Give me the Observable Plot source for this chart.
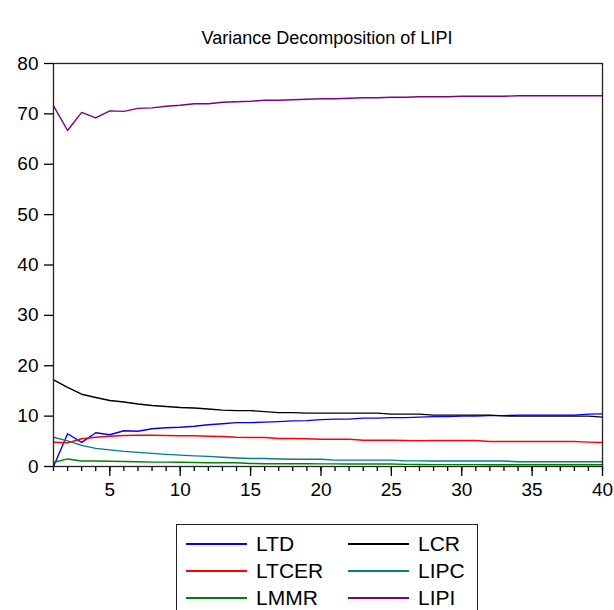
<!DOCTYPE html>
<html>
<head>
<meta charset="utf-8">
<script src="https://cdn.jsdelivr.net/npm/d3@7"></script>
<script src="https://cdn.jsdelivr.net/npm/@observablehq/plot@0.6"></script>
<style>
  html, body { margin: 0; padding: 0; background: #fff; }
  body { width: 614px; height: 610px; overflow: hidden; font-family: "Liberation Sans", Arial, sans-serif; color: #000; }
  #title { height: 50px; box-sizing: border-box; padding-top: 28px; text-align: center; font-size: 18px; line-height: 20px; padding-left: 40px; }
  #legend { margin-left: 176px; margin-top: 14px; width: 302px; box-sizing: border-box; border: 1.5px solid #222; border-bottom: none; padding: 5px 0 6px 9px; display: grid; grid-template-columns: 162px 120px; }
  .item { display: flex; align-items: center; height: 27px; font-size: 21px; }
  .sw { display: inline-block; width: 61px; height: 2px; margin-right: 9px; }
</style>
</head>
<body>
<div id="title">Variance Decomposition of LIPI</div>
<div id="chart"></div>
<div id="legend"></div>
<script>
const periods = [1,2,3,4,5,6,7,8,9,10,11,12,13,14,15,16,17,18,19,20,21,22,23,24,25,26,27,28,29,30,31,32,33,34,35,36,37,38,39,40];
const xTicks = [5,10,15,20,25,30,35,40];
const yTicks = [0,10,20,30,40,50,60,70,80];

const seriesNames = ["LTD","LCR","LTCER","LIPC","LMMR","LIPI"];
const seriesColors = ["#0000ff","#000000","#ff0000","#008080","#008000","#800080"];

const LTD   = [0.0,6.5,4.8,6.7,6.3,7.1,7.0,7.5,7.7,7.8,8.0,8.3,8.5,8.7,8.7,8.8,8.9,9.05,9.1,9.3,9.4,9.4,9.6,9.6,9.7,9.7,9.8,9.9,9.9,10.0,10.0,10.1,10.1,10.2,10.2,10.2,10.2,10.2,10.4,10.45];
const LCR   = [17.2,15.7,14.35,13.7,13.1,12.8,12.4,12.1,11.9,11.7,11.6,11.4,11.2,11.1,11.1,10.9,10.7,10.7,10.6,10.6,10.6,10.6,10.6,10.6,10.4,10.4,10.4,10.2,10.2,10.2,10.2,10.2,10.05,10.0,10.0,10.0,10.0,10.0,10.0,9.8];
const LTCER = [4.8,4.7,5.5,5.8,6.0,6.15,6.2,6.2,6.15,6.1,6.1,6.0,5.95,5.8,5.75,5.75,5.55,5.55,5.5,5.4,5.4,5.4,5.2,5.2,5.2,5.15,5.1,5.15,5.15,5.15,5.15,4.95,4.95,4.95,4.95,4.95,4.95,4.95,4.83,4.76];
const LIPC  = [5.8,5.1,4.2,3.6,3.3,3.0,2.8,2.6,2.4,2.25,2.1,2.0,1.85,1.7,1.6,1.6,1.5,1.45,1.45,1.45,1.26,1.26,1.26,1.26,1.26,1.12,1.12,1.1,1.1,1.1,1.1,1.1,1.1,0.93,0.93,0.93,0.93,0.93,0.93,0.93];
const LMMR  = [0.8,1.5,1.1,1.1,1.05,1.0,0.93,0.86,0.86,0.85,0.8,0.75,0.75,0.73,0.6,0.55,0.55,0.55,0.55,0.52,0.52,0.5,0.5,0.5,0.5,0.42,0.4,0.38,0.38,0.37,0.37,0.36,0.36,0.35,0.35,0.35,0.35,0.35,0.35,0.35];
const LIPI  = [71.6,66.7,70.3,69.2,70.6,70.5,71.1,71.2,71.5,71.7,72.0,72.0,72.3,72.4,72.5,72.7,72.7,72.8,72.9,73.0,73.0,73.1,73.2,73.2,73.3,73.3,73.4,73.4,73.4,73.5,73.5,73.5,73.5,73.6,73.6,73.6,73.6,73.6,73.6,73.6];

const seriesValues = [LTD, LCR, LTCER, LIPC, LMMR, LIPI];

const rows = [];
seriesNames.forEach((name, s) => {
  periods.forEach((p, i) => rows.push({series: name, period: p, value: seriesValues[s][i]}));
});

const chart = Plot.plot({
  width: 614,
  height: 460,
  marginLeft: 53,
  marginRight: 12,
  marginTop: 13,
  marginBottom: 44,
  style: {fontFamily: "Liberation Sans, Arial, sans-serif", fontSize: "19px", color: "#000", background: "#fff"},
  x: {domain: [1, 40], label: null},
  y: {domain: [0, 80], label: null},
  color: {domain: seriesNames, range: seriesColors},
  marks: [
    Plot.axisY(yTicks, {label: null, tickSize: 9, tickPadding: 6, fontSize: 19, strokeWidth: 1.3, stroke: "#000"}),
    Plot.axisX(xTicks, {label: null, tickSize: 10, tickPadding: 6, fontSize: 19, strokeWidth: 1.3, stroke: "#000"}),
    Plot.axisX(periods, {label: null, tickSize: 5, tickFormat: () => "", strokeWidth: 1.3, stroke: "#000"}),
    Plot.lineY(rows, {x: "period", y: "value", z: "series", stroke: "series", strokeWidth: 1.4}),
    Plot.frame({stroke: "#222", strokeWidth: 1.3})
  ]
});
document.getElementById("chart").appendChild(chart);

const legend = document.getElementById("legend");
seriesNames.forEach((name, i) => {
  const item = document.createElement("div");
  item.className = "item";
  const sw = document.createElement("span");
  sw.className = "sw";
  sw.style.backgroundColor = seriesColors[i];
  const lab = document.createElement("span");
  lab.textContent = name;
  item.appendChild(sw);
  item.appendChild(lab);
  legend.appendChild(item);
});
</script>
</body>
</html>
